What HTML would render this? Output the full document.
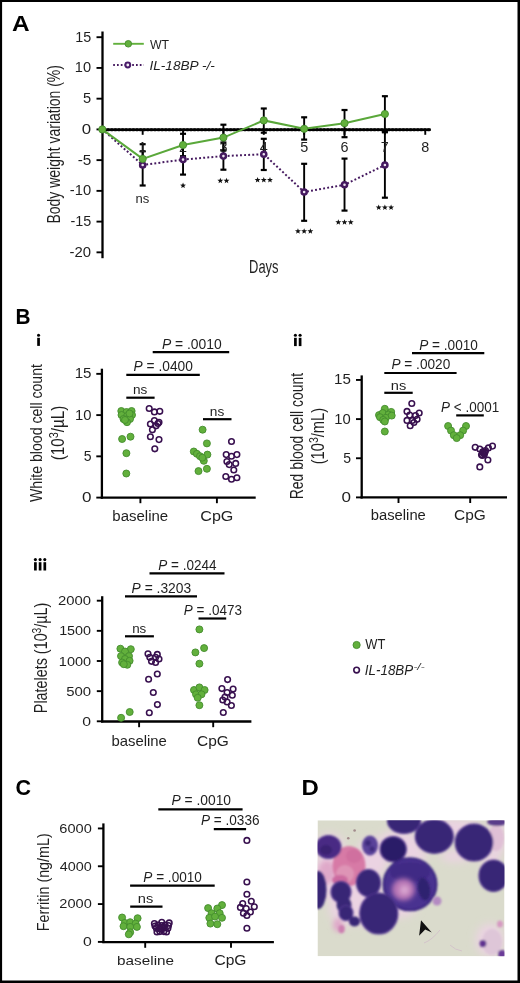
<!DOCTYPE html>
<html><head><meta charset="utf-8"><style>
html,body{margin:0;padding:0;background:#fff;}
svg{display:block;font-family:"Liberation Sans", sans-serif;will-change:transform;}
</style></head><body>
<svg width="520" height="983" viewBox="0 0 520 983">
<rect width="520" height="983" fill="#fff"/>
<text x="11.97" y="30.80" font-size="22.32" fill="#000" textLength="17.62" lengthAdjust="spacingAndGlyphs"><tspan font-weight="bold" font-style="normal">A</tspan></text>
<line x1="102.50" y1="31.50" x2="102.50" y2="258.20" stroke="#000" stroke-width="2.3"/>
<line x1="96.50" y1="37.20" x2="102.50" y2="37.20" stroke="#000" stroke-width="1.9"/>
<text x="75.25" y="41.70" font-size="14.60" fill="#1f1f1f" textLength="15.95" lengthAdjust="spacingAndGlyphs"><tspan font-weight="normal" font-style="normal">15</tspan></text>
<line x1="96.50" y1="67.93" x2="102.50" y2="67.93" stroke="#000" stroke-width="1.9"/>
<text x="74.83" y="72.43" font-size="14.60" fill="#1f1f1f" textLength="16.24" lengthAdjust="spacingAndGlyphs"><tspan font-weight="normal" font-style="normal">10</tspan></text>
<line x1="96.50" y1="98.67" x2="102.50" y2="98.67" stroke="#000" stroke-width="1.9"/>
<text x="83.11" y="103.17" font-size="14.60" fill="#1f1f1f" textLength="8.16" lengthAdjust="spacingAndGlyphs"><tspan font-weight="normal" font-style="normal">5</tspan></text>
<line x1="96.50" y1="129.40" x2="102.50" y2="129.40" stroke="#000" stroke-width="1.9"/>
<text x="81.83" y="133.90" font-size="14.60" fill="#1f1f1f" textLength="9.38" lengthAdjust="spacingAndGlyphs"><tspan font-weight="normal" font-style="normal">0</tspan></text>
<line x1="96.50" y1="160.13" x2="102.50" y2="160.13" stroke="#000" stroke-width="1.9"/>
<text x="77.69" y="164.63" font-size="14.60" fill="#1f1f1f" textLength="13.67" lengthAdjust="spacingAndGlyphs"><tspan font-weight="normal" font-style="normal">-5</tspan></text>
<line x1="96.50" y1="190.87" x2="102.50" y2="190.87" stroke="#000" stroke-width="1.9"/>
<text x="69.81" y="195.37" font-size="14.60" fill="#1f1f1f" textLength="21.31" lengthAdjust="spacingAndGlyphs"><tspan font-weight="normal" font-style="normal">-10</tspan></text>
<line x1="96.50" y1="221.61" x2="102.50" y2="221.61" stroke="#000" stroke-width="1.9"/>
<text x="70.42" y="226.11" font-size="14.60" fill="#1f1f1f" textLength="20.83" lengthAdjust="spacingAndGlyphs"><tspan font-weight="normal" font-style="normal">-15</tspan></text>
<line x1="96.50" y1="252.34" x2="102.50" y2="252.34" stroke="#000" stroke-width="1.9"/>
<text x="69.60" y="256.84" font-size="14.60" fill="#1f1f1f" textLength="21.52" lengthAdjust="spacingAndGlyphs"><tspan font-weight="normal" font-style="normal">-20</tspan></text>
<line x1="101.50" y1="129.70" x2="430.80" y2="129.70" stroke="#000" stroke-width="2.3"/>
<line x1="104" y1="129.7" x2="430" y2="129.7" stroke="#000" stroke-width="3.0" stroke-dasharray="1.2 2.4" stroke-linecap="round"/>
<line x1="142.67" y1="129.70" x2="142.67" y2="134.80" stroke="#000" stroke-width="1.9"/>
<line x1="183.04" y1="129.70" x2="183.04" y2="134.80" stroke="#000" stroke-width="1.9"/>
<line x1="223.41" y1="129.70" x2="223.41" y2="134.80" stroke="#000" stroke-width="1.9"/>
<line x1="263.78" y1="129.70" x2="263.78" y2="134.80" stroke="#000" stroke-width="1.9"/>
<line x1="304.15" y1="129.70" x2="304.15" y2="134.80" stroke="#000" stroke-width="1.9"/>
<line x1="344.52" y1="129.70" x2="344.52" y2="134.80" stroke="#000" stroke-width="1.9"/>
<line x1="384.89" y1="129.70" x2="384.89" y2="134.80" stroke="#000" stroke-width="1.9"/>
<line x1="425.26" y1="129.70" x2="425.26" y2="134.80" stroke="#000" stroke-width="1.9"/>
<text x="249.07" y="273.10" font-size="17.54" fill="#1f1f1f" textLength="29.43" lengthAdjust="spacingAndGlyphs"><tspan font-weight="normal" font-style="normal">Days</tspan></text>
<text transform="translate(59.90,223.52) rotate(-90)" x="0" y="0" font-size="17.50" fill="#1f1f1f" textLength="158.47" lengthAdjust="spacingAndGlyphs"><tspan font-weight="normal" font-style="normal">Body weight variation (%)</tspan></text>
<line x1="142.67" y1="151.30" x2="142.67" y2="166.50" stroke="#000" stroke-width="1.9"/>
<line x1="139.67" y1="151.30" x2="145.67" y2="151.30" stroke="#000" stroke-width="2.2"/>
<line x1="139.67" y1="166.50" x2="145.67" y2="166.50" stroke="#000" stroke-width="2.2"/>
<line x1="142.67" y1="144.20" x2="142.67" y2="185.50" stroke="#000" stroke-width="1.9"/>
<line x1="139.67" y1="144.20" x2="145.67" y2="144.20" stroke="#000" stroke-width="2.2"/>
<line x1="139.67" y1="185.50" x2="145.67" y2="185.50" stroke="#000" stroke-width="2.2"/>
<line x1="183.04" y1="133.80" x2="183.04" y2="156.20" stroke="#000" stroke-width="1.9"/>
<line x1="180.04" y1="133.80" x2="186.04" y2="133.80" stroke="#000" stroke-width="2.2"/>
<line x1="180.04" y1="156.20" x2="186.04" y2="156.20" stroke="#000" stroke-width="2.2"/>
<line x1="183.04" y1="144.60" x2="183.04" y2="174.60" stroke="#000" stroke-width="1.9"/>
<line x1="180.04" y1="144.60" x2="186.04" y2="144.60" stroke="#000" stroke-width="2.2"/>
<line x1="180.04" y1="174.60" x2="186.04" y2="174.60" stroke="#000" stroke-width="2.2"/>
<line x1="223.41" y1="124.70" x2="223.41" y2="150.50" stroke="#000" stroke-width="1.9"/>
<line x1="220.41" y1="124.70" x2="226.41" y2="124.70" stroke="#000" stroke-width="2.2"/>
<line x1="220.41" y1="150.50" x2="226.41" y2="150.50" stroke="#000" stroke-width="2.2"/>
<line x1="223.41" y1="142.50" x2="223.41" y2="169.70" stroke="#000" stroke-width="1.9"/>
<line x1="220.41" y1="142.50" x2="226.41" y2="142.50" stroke="#000" stroke-width="2.2"/>
<line x1="220.41" y1="169.70" x2="226.41" y2="169.70" stroke="#000" stroke-width="2.2"/>
<line x1="263.78" y1="108.50" x2="263.78" y2="132.70" stroke="#000" stroke-width="1.9"/>
<line x1="260.78" y1="108.50" x2="266.78" y2="108.50" stroke="#000" stroke-width="2.2"/>
<line x1="260.78" y1="132.70" x2="266.78" y2="132.70" stroke="#000" stroke-width="2.2"/>
<line x1="263.78" y1="138.80" x2="263.78" y2="170.00" stroke="#000" stroke-width="1.9"/>
<line x1="260.78" y1="138.80" x2="266.78" y2="138.80" stroke="#000" stroke-width="2.2"/>
<line x1="260.78" y1="170.00" x2="266.78" y2="170.00" stroke="#000" stroke-width="2.2"/>
<line x1="304.15" y1="117.30" x2="304.15" y2="139.60" stroke="#000" stroke-width="1.9"/>
<line x1="301.15" y1="117.30" x2="307.15" y2="117.30" stroke="#000" stroke-width="2.2"/>
<line x1="301.15" y1="139.60" x2="307.15" y2="139.60" stroke="#000" stroke-width="2.2"/>
<line x1="304.15" y1="163.80" x2="304.15" y2="220.80" stroke="#000" stroke-width="1.9"/>
<line x1="301.15" y1="163.80" x2="307.15" y2="163.80" stroke="#000" stroke-width="2.2"/>
<line x1="301.15" y1="220.80" x2="307.15" y2="220.80" stroke="#000" stroke-width="2.2"/>
<line x1="344.52" y1="110.00" x2="344.52" y2="137.20" stroke="#000" stroke-width="1.9"/>
<line x1="341.52" y1="110.00" x2="347.52" y2="110.00" stroke="#000" stroke-width="2.2"/>
<line x1="341.52" y1="137.20" x2="347.52" y2="137.20" stroke="#000" stroke-width="2.2"/>
<line x1="344.52" y1="158.60" x2="344.52" y2="210.60" stroke="#000" stroke-width="1.9"/>
<line x1="341.52" y1="158.60" x2="347.52" y2="158.60" stroke="#000" stroke-width="2.2"/>
<line x1="341.52" y1="210.60" x2="347.52" y2="210.60" stroke="#000" stroke-width="2.2"/>
<line x1="384.89" y1="96.20" x2="384.89" y2="131.80" stroke="#000" stroke-width="1.9"/>
<line x1="381.89" y1="96.20" x2="387.89" y2="96.20" stroke="#000" stroke-width="2.2"/>
<line x1="381.89" y1="131.80" x2="387.89" y2="131.80" stroke="#000" stroke-width="2.2"/>
<line x1="384.89" y1="132.30" x2="384.89" y2="197.70" stroke="#000" stroke-width="1.9"/>
<line x1="381.89" y1="132.30" x2="387.89" y2="132.30" stroke="#000" stroke-width="2.2"/>
<line x1="381.89" y1="197.70" x2="387.89" y2="197.70" stroke="#000" stroke-width="2.2"/>
<text x="138.42" y="152.40" font-size="14.40" fill="#1f1f1f" textLength="8.01" lengthAdjust="spacingAndGlyphs"><tspan font-weight="normal" font-style="normal">1</tspan></text>
<text x="179.01" y="152.40" font-size="14.40" fill="#1f1f1f" textLength="8.01" lengthAdjust="spacingAndGlyphs"><tspan font-weight="normal" font-style="normal">2</tspan></text>
<text x="219.45" y="152.40" font-size="14.40" fill="#1f1f1f" textLength="8.01" lengthAdjust="spacingAndGlyphs"><tspan font-weight="normal" font-style="normal">3</tspan></text>
<text x="259.82" y="152.40" font-size="14.40" fill="#1f1f1f" textLength="8.01" lengthAdjust="spacingAndGlyphs"><tspan font-weight="normal" font-style="normal">4</tspan></text>
<text x="300.19" y="152.40" font-size="14.40" fill="#1f1f1f" textLength="8.01" lengthAdjust="spacingAndGlyphs"><tspan font-weight="normal" font-style="normal">5</tspan></text>
<text x="340.49" y="152.40" font-size="14.40" fill="#1f1f1f" textLength="8.01" lengthAdjust="spacingAndGlyphs"><tspan font-weight="normal" font-style="normal">6</tspan></text>
<text x="380.86" y="152.40" font-size="14.40" fill="#1f1f1f" textLength="8.01" lengthAdjust="spacingAndGlyphs"><tspan font-weight="normal" font-style="normal">7</tspan></text>
<text x="421.30" y="152.40" font-size="14.40" fill="#1f1f1f" textLength="8.01" lengthAdjust="spacingAndGlyphs"><tspan font-weight="normal" font-style="normal">8</tspan></text>
<path d="M102.30,129.40 L142.67,165.00 L183.04,159.60 L223.41,156.10 L263.78,154.20 L304.15,192.00 L344.52,184.80 L384.89,165.00" fill="none" stroke="#45195f" stroke-width="2.0" stroke-dasharray="1.9 2.2"/>
<path d="M102.30,129.40 L142.67,158.90 L183.04,145.00 L223.41,137.60 L263.78,120.40 L304.15,128.80 L344.52,123.20 L384.89,114.00" fill="none" stroke="#5aa83a" stroke-width="2.0"/>
<circle cx="142.67" cy="165.00" r="2.55" fill="#ece4f0" stroke="#45195f" stroke-width="2.5"/>
<circle cx="183.04" cy="159.60" r="2.55" fill="#ece4f0" stroke="#45195f" stroke-width="2.5"/>
<circle cx="223.41" cy="156.10" r="2.55" fill="#ece4f0" stroke="#45195f" stroke-width="2.5"/>
<circle cx="263.78" cy="154.20" r="2.55" fill="#ece4f0" stroke="#45195f" stroke-width="2.5"/>
<circle cx="304.15" cy="192.00" r="2.55" fill="#ece4f0" stroke="#45195f" stroke-width="2.5"/>
<circle cx="344.52" cy="184.80" r="2.55" fill="#ece4f0" stroke="#45195f" stroke-width="2.5"/>
<circle cx="384.89" cy="165.00" r="2.55" fill="#ece4f0" stroke="#45195f" stroke-width="2.5"/>
<circle cx="102.30" cy="129.40" r="3.6" fill="#62b03c" stroke="#448c2e" stroke-width="0.9"/>
<circle cx="142.67" cy="158.90" r="3.6" fill="#62b03c" stroke="#448c2e" stroke-width="0.9"/>
<circle cx="183.04" cy="145.00" r="3.6" fill="#62b03c" stroke="#448c2e" stroke-width="0.9"/>
<circle cx="223.41" cy="137.60" r="3.6" fill="#62b03c" stroke="#448c2e" stroke-width="0.9"/>
<circle cx="263.78" cy="120.40" r="3.6" fill="#62b03c" stroke="#448c2e" stroke-width="0.9"/>
<circle cx="304.15" cy="128.80" r="3.6" fill="#62b03c" stroke="#448c2e" stroke-width="0.9"/>
<circle cx="344.52" cy="123.20" r="3.6" fill="#62b03c" stroke="#448c2e" stroke-width="0.9"/>
<circle cx="384.89" cy="114.00" r="3.6" fill="#62b03c" stroke="#448c2e" stroke-width="0.9"/>
<text x="135.49" y="202.50" font-size="13.30" fill="#1f1f1f" textLength="13.78" lengthAdjust="spacingAndGlyphs"><tspan font-weight="normal" font-style="normal">ns</tspan></text>
<polygon points="183.04,182.50 183.81,184.55 185.99,184.64 184.28,186.00 184.86,188.11 183.04,186.90 181.22,188.11 181.80,186.00 180.09,184.64 182.27,184.55" fill="#111"/>
<polygon points="220.31,177.70 221.08,179.75 223.26,179.84 221.55,181.20 222.13,183.31 220.31,182.10 218.49,183.31 219.07,181.20 217.36,179.84 219.54,179.75" fill="#111"/>
<polygon points="226.51,177.70 227.28,179.75 229.46,179.84 227.75,181.20 228.33,183.31 226.51,182.10 224.69,183.31 225.27,181.20 223.56,179.84 225.74,179.75" fill="#111"/>
<polygon points="257.58,176.90 258.35,178.95 260.53,179.04 258.82,180.40 259.40,182.51 257.58,181.30 255.76,182.51 256.34,180.40 254.63,179.04 256.81,178.95" fill="#111"/>
<polygon points="263.78,176.90 264.55,178.95 266.73,179.04 265.02,180.40 265.60,182.51 263.78,181.30 261.96,182.51 262.54,180.40 260.83,179.04 263.01,178.95" fill="#111"/>
<polygon points="269.98,176.90 270.75,178.95 272.93,179.04 271.22,180.40 271.80,182.51 269.98,181.30 268.16,182.51 268.74,180.40 267.03,179.04 269.21,178.95" fill="#111"/>
<polygon points="297.95,228.20 298.72,230.25 300.90,230.34 299.19,231.70 299.77,233.81 297.95,232.60 296.13,233.81 296.71,231.70 295.00,230.34 297.18,230.25" fill="#111"/>
<polygon points="304.15,228.20 304.92,230.25 307.10,230.34 305.39,231.70 305.97,233.81 304.15,232.60 302.33,233.81 302.91,231.70 301.20,230.34 303.38,230.25" fill="#111"/>
<polygon points="310.35,228.20 311.12,230.25 313.30,230.34 311.59,231.70 312.17,233.81 310.35,232.60 308.53,233.81 309.11,231.70 307.40,230.34 309.58,230.25" fill="#111"/>
<polygon points="338.32,219.20 339.09,221.25 341.27,221.34 339.56,222.70 340.14,224.81 338.32,223.60 336.50,224.81 337.08,222.70 335.37,221.34 337.55,221.25" fill="#111"/>
<polygon points="344.52,219.20 345.29,221.25 347.47,221.34 345.76,222.70 346.34,224.81 344.52,223.60 342.70,224.81 343.28,222.70 341.57,221.34 343.75,221.25" fill="#111"/>
<polygon points="350.72,219.20 351.49,221.25 353.67,221.34 351.96,222.70 352.54,224.81 350.72,223.60 348.90,224.81 349.48,222.70 347.77,221.34 349.95,221.25" fill="#111"/>
<polygon points="378.69,204.40 379.46,206.45 381.64,206.54 379.93,207.90 380.51,210.01 378.69,208.80 376.87,210.01 377.45,207.90 375.74,206.54 377.92,206.45" fill="#111"/>
<polygon points="384.89,204.40 385.66,206.45 387.84,206.54 386.13,207.90 386.71,210.01 384.89,208.80 383.07,210.01 383.65,207.90 381.94,206.54 384.12,206.45" fill="#111"/>
<polygon points="391.09,204.40 391.86,206.45 394.04,206.54 392.33,207.90 392.91,210.01 391.09,208.80 389.27,210.01 389.85,207.90 388.14,206.54 390.32,206.45" fill="#111"/>
<line x1="113.20" y1="43.80" x2="143.80" y2="43.80" stroke="#62b03c" stroke-width="1.9"/>
<circle cx="128.30" cy="43.80" r="3.3" fill="#62b03c" stroke="#448c2e" stroke-width="0.9"/>
<text x="149.88" y="48.75" font-size="13.41" fill="#1f1f1f" textLength="19.18" lengthAdjust="spacingAndGlyphs"><tspan font-weight="normal" font-style="normal">WT</tspan></text>
<line x1="113.2" y1="65" x2="143.8" y2="65" stroke="#45195f" stroke-width="1.8" stroke-dasharray="1.7 2.1"/>
<circle cx="127.80" cy="65.00" r="2.4" fill="#f4eef6" stroke="#4a1d6a" stroke-width="2.0"/>
<text x="149.45" y="69.50" font-size="13.19" fill="#1f1f1f" textLength="65.42" lengthAdjust="spacingAndGlyphs"><tspan font-weight="normal" font-style="italic">IL-18BP -/-</tspan></text>
<text x="15.44" y="323.50" font-size="21.74" fill="#000" textLength="15.04" lengthAdjust="spacingAndGlyphs"><tspan font-weight="bold" font-style="normal">B</tspan></text>
<rect x="37.20" y="337.80" width="2.7" height="8.10" fill="#000"/>
<circle cx="38.55" cy="335.20" r="1.55" fill="#000"/>
<rect x="294.05" y="337.80" width="2.7" height="8.30" fill="#000"/>
<circle cx="295.40" cy="335.20" r="1.55" fill="#000"/>
<rect x="298.75" y="337.80" width="2.7" height="8.30" fill="#000"/>
<circle cx="300.10" cy="335.20" r="1.55" fill="#000"/>
<rect x="34.05" y="562.20" width="2.7" height="8.30" fill="#000"/>
<circle cx="35.40" cy="559.60" r="1.55" fill="#000"/>
<rect x="38.75" y="562.20" width="2.7" height="8.30" fill="#000"/>
<circle cx="40.10" cy="559.60" r="1.55" fill="#000"/>
<rect x="43.45" y="562.20" width="2.7" height="8.30" fill="#000"/>
<circle cx="44.80" cy="559.60" r="1.55" fill="#000"/>
<line x1="101.90" y1="368.70" x2="101.90" y2="498.70" stroke="#000" stroke-width="2.3"/>
<line x1="100.80" y1="497.60" x2="255.70" y2="497.60" stroke="#000" stroke-width="2.3"/>
<line x1="96.30" y1="373.85" x2="101.90" y2="373.85" stroke="#000" stroke-width="1.9"/>
<text x="74.69" y="378.35" font-size="14.70" fill="#1f1f1f" textLength="16.85" lengthAdjust="spacingAndGlyphs"><tspan font-weight="normal" font-style="normal">15</tspan></text>
<line x1="96.30" y1="415.10" x2="101.90" y2="415.10" stroke="#000" stroke-width="1.9"/>
<text x="74.92" y="419.60" font-size="14.70" fill="#1f1f1f" textLength="16.46" lengthAdjust="spacingAndGlyphs"><tspan font-weight="normal" font-style="normal">10</tspan></text>
<line x1="96.30" y1="456.35" x2="101.90" y2="456.35" stroke="#000" stroke-width="1.9"/>
<text x="83.74" y="460.85" font-size="14.70" fill="#1f1f1f" textLength="7.81" lengthAdjust="spacingAndGlyphs"><tspan font-weight="normal" font-style="normal">5</tspan></text>
<line x1="96.30" y1="497.60" x2="101.90" y2="497.60" stroke="#000" stroke-width="1.9"/>
<text x="82.02" y="502.10" font-size="14.70" fill="#1f1f1f" textLength="9.50" lengthAdjust="spacingAndGlyphs"><tspan font-weight="normal" font-style="normal">0</tspan></text>
<line x1="140.40" y1="497.60" x2="140.40" y2="503.20" stroke="#000" stroke-width="1.9"/>
<line x1="216.90" y1="497.60" x2="216.90" y2="503.20" stroke="#000" stroke-width="1.9"/>
<text x="112.30" y="520.80" font-size="14.86" fill="#1f1f1f" textLength="55.87" lengthAdjust="spacingAndGlyphs"><tspan font-weight="normal" font-style="normal">baseline</tspan></text>
<text x="200.29" y="520.70" font-size="14.90" fill="#1f1f1f" textLength="33.13" lengthAdjust="spacingAndGlyphs"><tspan font-weight="normal" font-style="normal">CpG</tspan></text>
<text transform="translate(42.30,501.94) rotate(-90)" x="0" y="0" font-size="17.36" fill="#1f1f1f" textLength="137.92" lengthAdjust="spacingAndGlyphs"><tspan font-weight="normal" font-style="normal">White blood cell count</tspan></text>
<text transform="translate(63.70,460.31) rotate(-90)" x="0" y="0" font-size="17.70" fill="#1f1f1f" textLength="54.61" lengthAdjust="spacingAndGlyphs"><tspan font-weight="normal" font-style="normal">(10</tspan><tspan font-weight="normal" font-style="normal" font-size="12.74" dy="-6.07">3</tspan><tspan font-weight="normal" font-style="normal" dy="6.07">/µL)</tspan></text>
<text x="161.88" y="348.80" font-size="14.50" fill="#1f1f1f" textLength="59.86" lengthAdjust="spacingAndGlyphs"><tspan font-weight="normal" font-style="italic">P</tspan><tspan font-weight="normal" font-style="normal"> = .0010</tspan></text>
<line x1="152.70" y1="352.10" x2="229.20" y2="352.10" stroke="#000" stroke-width="2.2"/>
<text x="133.59" y="370.80" font-size="14.50" fill="#1f1f1f" textLength="59.25" lengthAdjust="spacingAndGlyphs"><tspan font-weight="normal" font-style="italic">P</tspan><tspan font-weight="normal" font-style="normal"> = .0400</tspan></text>
<line x1="126.30" y1="374.80" x2="199.80" y2="374.80" stroke="#000" stroke-width="2.2"/>
<text x="133.05" y="394.40" font-size="13.30" fill="#1f1f1f" textLength="14.34" lengthAdjust="spacingAndGlyphs"><tspan font-weight="normal" font-style="normal">ns</tspan></text>
<line x1="126.30" y1="397.70" x2="154.60" y2="397.70" stroke="#000" stroke-width="2.2"/>
<text x="209.84" y="415.60" font-size="13.30" fill="#1f1f1f" textLength="14.45" lengthAdjust="spacingAndGlyphs"><tspan font-weight="normal" font-style="normal">ns</tspan></text>
<line x1="203.00" y1="419.20" x2="231.50" y2="419.20" stroke="#000" stroke-width="2.2"/>
<circle cx="121.30" cy="411.00" r="3.5" fill="#62b03c" stroke="#448c2e" stroke-width="0.9"/>
<circle cx="126.50" cy="412.00" r="3.5" fill="#62b03c" stroke="#448c2e" stroke-width="0.9"/>
<circle cx="131.60" cy="411.00" r="3.5" fill="#62b03c" stroke="#448c2e" stroke-width="0.9"/>
<circle cx="121.50" cy="415.00" r="3.5" fill="#62b03c" stroke="#448c2e" stroke-width="0.9"/>
<circle cx="127.00" cy="416.00" r="3.5" fill="#62b03c" stroke="#448c2e" stroke-width="0.9"/>
<circle cx="132.00" cy="415.00" r="3.5" fill="#62b03c" stroke="#448c2e" stroke-width="0.9"/>
<circle cx="123.50" cy="419.00" r="3.5" fill="#62b03c" stroke="#448c2e" stroke-width="0.9"/>
<circle cx="130.00" cy="419.00" r="3.5" fill="#62b03c" stroke="#448c2e" stroke-width="0.9"/>
<circle cx="127.00" cy="422.20" r="3.5" fill="#62b03c" stroke="#448c2e" stroke-width="0.9"/>
<circle cx="125.00" cy="420.00" r="3.5" fill="#62b03c" stroke="#448c2e" stroke-width="0.9"/>
<circle cx="129.50" cy="413.50" r="3.5" fill="#62b03c" stroke="#448c2e" stroke-width="0.9"/>
<circle cx="122.10" cy="439.00" r="3.5" fill="#62b03c" stroke="#448c2e" stroke-width="0.9"/>
<circle cx="130.50" cy="436.70" r="3.5" fill="#62b03c" stroke="#448c2e" stroke-width="0.9"/>
<circle cx="126.40" cy="453.20" r="3.5" fill="#62b03c" stroke="#448c2e" stroke-width="0.9"/>
<circle cx="126.30" cy="473.50" r="3.5" fill="#62b03c" stroke="#448c2e" stroke-width="0.9"/>
<circle cx="149.20" cy="408.50" r="2.8" fill="none" stroke="#38104f" stroke-width="1.55"/>
<circle cx="154.40" cy="411.90" r="2.8" fill="none" stroke="#38104f" stroke-width="1.55"/>
<circle cx="159.80" cy="411.30" r="2.8" fill="none" stroke="#38104f" stroke-width="1.55"/>
<circle cx="154.40" cy="420.60" r="2.8" fill="none" stroke="#38104f" stroke-width="1.55"/>
<circle cx="150.40" cy="424.00" r="2.8" fill="none" stroke="#38104f" stroke-width="1.55"/>
<circle cx="157.90" cy="423.50" r="2.8" fill="none" stroke="#38104f" stroke-width="1.55"/>
<circle cx="159.00" cy="422.30" r="2.8" fill="none" stroke="#38104f" stroke-width="1.55"/>
<circle cx="156.10" cy="425.80" r="2.8" fill="none" stroke="#38104f" stroke-width="1.55"/>
<circle cx="152.40" cy="429.80" r="2.8" fill="none" stroke="#38104f" stroke-width="1.55"/>
<circle cx="150.40" cy="436.70" r="2.8" fill="none" stroke="#38104f" stroke-width="1.55"/>
<circle cx="159.00" cy="439.60" r="2.8" fill="none" stroke="#38104f" stroke-width="1.55"/>
<circle cx="154.80" cy="448.80" r="2.8" fill="none" stroke="#38104f" stroke-width="1.55"/>
<circle cx="202.60" cy="429.70" r="3.5" fill="#62b03c" stroke="#448c2e" stroke-width="0.9"/>
<circle cx="206.90" cy="443.40" r="3.5" fill="#62b03c" stroke="#448c2e" stroke-width="0.9"/>
<circle cx="193.80" cy="451.50" r="3.5" fill="#62b03c" stroke="#448c2e" stroke-width="0.9"/>
<circle cx="196.90" cy="453.80" r="3.5" fill="#62b03c" stroke="#448c2e" stroke-width="0.9"/>
<circle cx="200.00" cy="456.20" r="3.5" fill="#62b03c" stroke="#448c2e" stroke-width="0.9"/>
<circle cx="207.40" cy="454.60" r="3.5" fill="#62b03c" stroke="#448c2e" stroke-width="0.9"/>
<circle cx="203.80" cy="460.80" r="3.5" fill="#62b03c" stroke="#448c2e" stroke-width="0.9"/>
<circle cx="206.90" cy="468.80" r="3.5" fill="#62b03c" stroke="#448c2e" stroke-width="0.9"/>
<circle cx="198.50" cy="471.10" r="3.5" fill="#62b03c" stroke="#448c2e" stroke-width="0.9"/>
<circle cx="202.30" cy="457.70" r="3.5" fill="#62b03c" stroke="#448c2e" stroke-width="0.9"/>
<circle cx="231.50" cy="441.50" r="2.8" fill="none" stroke="#38104f" stroke-width="1.55"/>
<circle cx="226.20" cy="454.60" r="2.8" fill="none" stroke="#38104f" stroke-width="1.55"/>
<circle cx="231.50" cy="456.20" r="2.8" fill="none" stroke="#38104f" stroke-width="1.55"/>
<circle cx="236.90" cy="454.60" r="2.8" fill="none" stroke="#38104f" stroke-width="1.55"/>
<circle cx="226.90" cy="461.50" r="2.8" fill="none" stroke="#38104f" stroke-width="1.55"/>
<circle cx="229.20" cy="464.60" r="2.8" fill="none" stroke="#38104f" stroke-width="1.55"/>
<circle cx="235.70" cy="463.40" r="2.8" fill="none" stroke="#38104f" stroke-width="1.55"/>
<circle cx="233.80" cy="470.00" r="2.8" fill="none" stroke="#38104f" stroke-width="1.55"/>
<circle cx="225.80" cy="476.50" r="2.8" fill="none" stroke="#38104f" stroke-width="1.55"/>
<circle cx="231.50" cy="479.20" r="2.8" fill="none" stroke="#38104f" stroke-width="1.55"/>
<circle cx="236.90" cy="477.70" r="2.8" fill="none" stroke="#38104f" stroke-width="1.55"/>
<line x1="361.70" y1="375.40" x2="361.70" y2="498.50" stroke="#000" stroke-width="2.3"/>
<line x1="360.60" y1="497.30" x2="507.00" y2="497.30" stroke="#000" stroke-width="2.3"/>
<line x1="356.00" y1="379.95" x2="361.70" y2="379.95" stroke="#000" stroke-width="1.9"/>
<text x="334.09" y="384.45" font-size="14.70" fill="#1f1f1f" textLength="16.85" lengthAdjust="spacingAndGlyphs"><tspan font-weight="normal" font-style="normal">15</tspan></text>
<line x1="356.00" y1="419.10" x2="361.70" y2="419.10" stroke="#000" stroke-width="1.9"/>
<text x="334.32" y="423.60" font-size="14.70" fill="#1f1f1f" textLength="16.46" lengthAdjust="spacingAndGlyphs"><tspan font-weight="normal" font-style="normal">10</tspan></text>
<line x1="356.00" y1="458.25" x2="361.70" y2="458.25" stroke="#000" stroke-width="1.9"/>
<text x="343.14" y="462.75" font-size="14.70" fill="#1f1f1f" textLength="7.81" lengthAdjust="spacingAndGlyphs"><tspan font-weight="normal" font-style="normal">5</tspan></text>
<line x1="356.00" y1="497.40" x2="361.70" y2="497.40" stroke="#000" stroke-width="1.9"/>
<text x="341.42" y="501.90" font-size="14.70" fill="#1f1f1f" textLength="9.50" lengthAdjust="spacingAndGlyphs"><tspan font-weight="normal" font-style="normal">0</tspan></text>
<line x1="398.50" y1="497.30" x2="398.50" y2="503.00" stroke="#000" stroke-width="1.9"/>
<line x1="470.20" y1="497.30" x2="470.20" y2="503.00" stroke="#000" stroke-width="1.9"/>
<text x="370.81" y="520.20" font-size="14.90" fill="#1f1f1f" textLength="55.05" lengthAdjust="spacingAndGlyphs"><tspan font-weight="normal" font-style="normal">baseline</tspan></text>
<text x="454.03" y="520.20" font-size="14.90" fill="#1f1f1f" textLength="31.75" lengthAdjust="spacingAndGlyphs"><tspan font-weight="normal" font-style="normal">CpG</tspan></text>
<text transform="translate(303.20,499.22) rotate(-90)" x="0" y="0" font-size="17.50" fill="#1f1f1f" textLength="126.37" lengthAdjust="spacingAndGlyphs"><tspan font-weight="normal" font-style="normal">Red blood cell count</tspan></text>
<text transform="translate(324.20,464.28) rotate(-90)" x="0" y="0" font-size="17.50" fill="#1f1f1f" textLength="56.34" lengthAdjust="spacingAndGlyphs"><tspan font-weight="normal" font-style="normal">(10</tspan><tspan font-weight="normal" font-style="normal" font-size="12.60" dy="-6.00">3</tspan><tspan font-weight="normal" font-style="normal" dy="6.00">/mL)</tspan></text>
<text x="419.19" y="349.60" font-size="14.50" fill="#1f1f1f" textLength="58.74" lengthAdjust="spacingAndGlyphs"><tspan font-weight="normal" font-style="italic">P</tspan><tspan font-weight="normal" font-style="normal"> = .0010</tspan></text>
<line x1="412.00" y1="353.10" x2="484.30" y2="353.10" stroke="#000" stroke-width="2.2"/>
<text x="391.49" y="369.30" font-size="14.50" fill="#1f1f1f" textLength="58.74" lengthAdjust="spacingAndGlyphs"><tspan font-weight="normal" font-style="italic">P</tspan><tspan font-weight="normal" font-style="normal"> = .0020</tspan></text>
<line x1="384.30" y1="373.00" x2="456.60" y2="373.00" stroke="#000" stroke-width="2.2"/>
<text x="390.88" y="389.60" font-size="13.30" fill="#1f1f1f" textLength="15.45" lengthAdjust="spacingAndGlyphs"><tspan font-weight="normal" font-style="normal">ns</tspan></text>
<line x1="384.30" y1="392.80" x2="412.70" y2="392.80" stroke="#000" stroke-width="2.2"/>
<text x="441.10" y="411.50" font-size="14.50" fill="#1f1f1f" textLength="58.06" lengthAdjust="spacingAndGlyphs"><tspan font-weight="normal" font-style="italic">P</tspan><tspan font-weight="normal" font-style="normal"> &lt; .0001</tspan></text>
<line x1="456.20" y1="415.40" x2="483.80" y2="415.40" stroke="#000" stroke-width="2.2"/>
<circle cx="384.80" cy="408.80" r="3.5" fill="#62b03c" stroke="#448c2e" stroke-width="0.9"/>
<circle cx="379.00" cy="415.10" r="3.5" fill="#62b03c" stroke="#448c2e" stroke-width="0.9"/>
<circle cx="391.20" cy="411.90" r="3.5" fill="#62b03c" stroke="#448c2e" stroke-width="0.9"/>
<circle cx="382.70" cy="413.00" r="3.5" fill="#62b03c" stroke="#448c2e" stroke-width="0.9"/>
<circle cx="388.50" cy="414.60" r="3.5" fill="#62b03c" stroke="#448c2e" stroke-width="0.9"/>
<circle cx="380.00" cy="417.20" r="3.5" fill="#62b03c" stroke="#448c2e" stroke-width="0.9"/>
<circle cx="385.90" cy="417.80" r="3.5" fill="#62b03c" stroke="#448c2e" stroke-width="0.9"/>
<circle cx="391.70" cy="415.60" r="3.5" fill="#62b03c" stroke="#448c2e" stroke-width="0.9"/>
<circle cx="383.20" cy="419.90" r="3.5" fill="#62b03c" stroke="#448c2e" stroke-width="0.9"/>
<circle cx="384.80" cy="421.50" r="3.5" fill="#62b03c" stroke="#448c2e" stroke-width="0.9"/>
<circle cx="384.80" cy="431.50" r="3.5" fill="#62b03c" stroke="#448c2e" stroke-width="0.9"/>
<circle cx="411.80" cy="403.50" r="2.8" fill="none" stroke="#38104f" stroke-width="1.55"/>
<circle cx="407.00" cy="411.40" r="2.8" fill="none" stroke="#38104f" stroke-width="1.55"/>
<circle cx="419.20" cy="413.00" r="2.8" fill="none" stroke="#38104f" stroke-width="1.55"/>
<circle cx="409.70" cy="415.10" r="2.8" fill="none" stroke="#38104f" stroke-width="1.55"/>
<circle cx="415.50" cy="415.60" r="2.8" fill="none" stroke="#38104f" stroke-width="1.55"/>
<circle cx="407.00" cy="420.40" r="2.8" fill="none" stroke="#38104f" stroke-width="1.55"/>
<circle cx="412.30" cy="420.40" r="2.8" fill="none" stroke="#38104f" stroke-width="1.55"/>
<circle cx="417.10" cy="419.30" r="2.8" fill="none" stroke="#38104f" stroke-width="1.55"/>
<circle cx="410.20" cy="425.70" r="2.8" fill="none" stroke="#38104f" stroke-width="1.55"/>
<circle cx="413.90" cy="422.50" r="2.8" fill="none" stroke="#38104f" stroke-width="1.55"/>
<circle cx="448.10" cy="426.00" r="3.5" fill="#62b03c" stroke="#448c2e" stroke-width="0.9"/>
<circle cx="466.00" cy="426.00" r="3.5" fill="#62b03c" stroke="#448c2e" stroke-width="0.9"/>
<circle cx="451.00" cy="430.60" r="3.5" fill="#62b03c" stroke="#448c2e" stroke-width="0.9"/>
<circle cx="463.10" cy="430.60" r="3.5" fill="#62b03c" stroke="#448c2e" stroke-width="0.9"/>
<circle cx="453.80" cy="435.20" r="3.5" fill="#62b03c" stroke="#448c2e" stroke-width="0.9"/>
<circle cx="460.20" cy="435.20" r="3.5" fill="#62b03c" stroke="#448c2e" stroke-width="0.9"/>
<circle cx="456.70" cy="438.10" r="3.5" fill="#62b03c" stroke="#448c2e" stroke-width="0.9"/>
<circle cx="475.20" cy="447.30" r="2.8" fill="none" stroke="#38104f" stroke-width="1.55"/>
<circle cx="479.80" cy="449.00" r="2.8" fill="none" stroke="#38104f" stroke-width="1.55"/>
<circle cx="492.50" cy="446.10" r="2.8" fill="none" stroke="#38104f" stroke-width="1.55"/>
<circle cx="488.40" cy="447.90" r="2.8" fill="none" stroke="#38104f" stroke-width="1.55"/>
<circle cx="482.70" cy="451.90" r="2.8" fill="none" stroke="#38104f" stroke-width="1.55"/>
<circle cx="484.40" cy="454.20" r="2.8" fill="none" stroke="#38104f" stroke-width="1.55"/>
<circle cx="481.50" cy="454.80" r="2.8" fill="none" stroke="#38104f" stroke-width="1.55"/>
<circle cx="485.00" cy="452.00" r="2.8" fill="none" stroke="#38104f" stroke-width="1.55"/>
<circle cx="487.90" cy="460.00" r="2.8" fill="none" stroke="#38104f" stroke-width="1.55"/>
<circle cx="479.80" cy="466.90" r="2.8" fill="none" stroke="#38104f" stroke-width="1.55"/>
<circle cx="483.50" cy="453.00" r="2.8" fill="none" stroke="#38104f" stroke-width="1.55"/>
<circle cx="485.50" cy="450.50" r="2.8" fill="none" stroke="#38104f" stroke-width="1.55"/>
<circle cx="482.50" cy="455.50" r="2.8" fill="none" stroke="#38104f" stroke-width="1.55"/>
<line x1="102.20" y1="596.20" x2="102.20" y2="722.40" stroke="#000" stroke-width="2.3"/>
<line x1="101.10" y1="721.50" x2="251.40" y2="721.50" stroke="#000" stroke-width="2.3"/>
<line x1="96.80" y1="600.70" x2="102.20" y2="600.70" stroke="#000" stroke-width="1.9"/>
<text x="58.06" y="605.30" font-size="13.70" fill="#1f1f1f" textLength="33.05" lengthAdjust="spacingAndGlyphs"><tspan font-weight="normal" font-style="normal">2000</tspan></text>
<line x1="96.80" y1="630.85" x2="102.20" y2="630.85" stroke="#000" stroke-width="1.9"/>
<text x="59.15" y="635.45" font-size="13.70" fill="#1f1f1f" textLength="31.94" lengthAdjust="spacingAndGlyphs"><tspan font-weight="normal" font-style="normal">1500</tspan></text>
<line x1="96.80" y1="661.00" x2="102.20" y2="661.00" stroke="#000" stroke-width="1.9"/>
<text x="58.84" y="665.60" font-size="13.70" fill="#1f1f1f" textLength="32.26" lengthAdjust="spacingAndGlyphs"><tspan font-weight="normal" font-style="normal">1000</tspan></text>
<line x1="96.80" y1="691.15" x2="102.20" y2="691.15" stroke="#000" stroke-width="1.9"/>
<text x="66.20" y="695.75" font-size="13.70" fill="#1f1f1f" textLength="24.97" lengthAdjust="spacingAndGlyphs"><tspan font-weight="normal" font-style="normal">500</tspan></text>
<line x1="96.80" y1="721.30" x2="102.20" y2="721.30" stroke="#000" stroke-width="1.9"/>
<text x="82.37" y="725.90" font-size="13.70" fill="#1f1f1f" textLength="8.80" lengthAdjust="spacingAndGlyphs"><tspan font-weight="normal" font-style="normal">0</tspan></text>
<line x1="139.10" y1="721.50" x2="139.10" y2="727.20" stroke="#000" stroke-width="1.9"/>
<line x1="213.20" y1="721.50" x2="213.20" y2="727.20" stroke="#000" stroke-width="1.9"/>
<text x="111.41" y="745.80" font-size="15.00" fill="#1f1f1f" textLength="55.46" lengthAdjust="spacingAndGlyphs"><tspan font-weight="normal" font-style="normal">baseline</tspan></text>
<text x="197.03" y="745.80" font-size="14.90" fill="#1f1f1f" textLength="31.85" lengthAdjust="spacingAndGlyphs"><tspan font-weight="normal" font-style="normal">CpG</tspan></text>
<text transform="translate(47.00,713.15) rotate(-90)" x="0" y="0" font-size="18.00" fill="#1f1f1f" textLength="110.54" lengthAdjust="spacingAndGlyphs"><tspan font-weight="normal" font-style="normal">Platelets (10</tspan><tspan font-weight="normal" font-style="normal" font-size="12.96" dy="-6.17">3</tspan><tspan font-weight="normal" font-style="normal" dy="6.17">/µL)</tspan></text>
<text x="158.34" y="570.00" font-size="14.50" fill="#1f1f1f" textLength="58.30" lengthAdjust="spacingAndGlyphs"><tspan font-weight="normal" font-style="italic">P</tspan><tspan font-weight="normal" font-style="normal"> = .0244</tspan></text>
<line x1="149.50" y1="573.30" x2="224.50" y2="573.30" stroke="#000" stroke-width="2.2"/>
<text x="131.59" y="592.50" font-size="14.50" fill="#1f1f1f" textLength="59.59" lengthAdjust="spacingAndGlyphs"><tspan font-weight="normal" font-style="italic">P</tspan><tspan font-weight="normal" font-style="normal"> = .3203</tspan></text>
<line x1="125.00" y1="596.30" x2="197.00" y2="596.30" stroke="#000" stroke-width="2.2"/>
<text x="183.80" y="614.70" font-size="14.50" fill="#1f1f1f" textLength="58.17" lengthAdjust="spacingAndGlyphs"><tspan font-weight="normal" font-style="italic">P</tspan><tspan font-weight="normal" font-style="normal"> = .0473</tspan></text>
<line x1="198.50" y1="618.50" x2="226.20" y2="618.50" stroke="#000" stroke-width="2.2"/>
<text x="132.16" y="633.00" font-size="13.30" fill="#1f1f1f" textLength="14.12" lengthAdjust="spacingAndGlyphs"><tspan font-weight="normal" font-style="normal">ns</tspan></text>
<line x1="125.00" y1="636.30" x2="153.90" y2="636.30" stroke="#000" stroke-width="2.2"/>
<circle cx="120.40" cy="648.70" r="3.5" fill="#62b03c" stroke="#448c2e" stroke-width="0.9"/>
<circle cx="130.80" cy="649.20" r="3.5" fill="#62b03c" stroke="#448c2e" stroke-width="0.9"/>
<circle cx="125.00" cy="651.50" r="3.5" fill="#62b03c" stroke="#448c2e" stroke-width="0.9"/>
<circle cx="121.00" cy="656.10" r="3.5" fill="#62b03c" stroke="#448c2e" stroke-width="0.9"/>
<circle cx="129.00" cy="656.10" r="3.5" fill="#62b03c" stroke="#448c2e" stroke-width="0.9"/>
<circle cx="125.00" cy="659.00" r="3.5" fill="#62b03c" stroke="#448c2e" stroke-width="0.9"/>
<circle cx="122.10" cy="662.50" r="3.5" fill="#62b03c" stroke="#448c2e" stroke-width="0.9"/>
<circle cx="129.60" cy="660.80" r="3.5" fill="#62b03c" stroke="#448c2e" stroke-width="0.9"/>
<circle cx="127.30" cy="664.80" r="3.5" fill="#62b03c" stroke="#448c2e" stroke-width="0.9"/>
<circle cx="123.80" cy="664.20" r="3.5" fill="#62b03c" stroke="#448c2e" stroke-width="0.9"/>
<circle cx="121.10" cy="717.80" r="3.5" fill="#62b03c" stroke="#448c2e" stroke-width="0.9"/>
<circle cx="129.70" cy="712.00" r="3.5" fill="#62b03c" stroke="#448c2e" stroke-width="0.9"/>
<circle cx="148.00" cy="653.80" r="2.8" fill="none" stroke="#38104f" stroke-width="1.55"/>
<circle cx="157.30" cy="654.40" r="2.8" fill="none" stroke="#38104f" stroke-width="1.55"/>
<circle cx="149.80" cy="657.30" r="2.8" fill="none" stroke="#38104f" stroke-width="1.55"/>
<circle cx="155.60" cy="657.30" r="2.8" fill="none" stroke="#38104f" stroke-width="1.55"/>
<circle cx="159.00" cy="659.00" r="2.8" fill="none" stroke="#38104f" stroke-width="1.55"/>
<circle cx="151.50" cy="661.30" r="2.8" fill="none" stroke="#38104f" stroke-width="1.55"/>
<circle cx="155.60" cy="662.50" r="2.8" fill="none" stroke="#38104f" stroke-width="1.55"/>
<circle cx="157.30" cy="674.00" r="2.8" fill="none" stroke="#38104f" stroke-width="1.55"/>
<circle cx="148.60" cy="679.20" r="2.8" fill="none" stroke="#38104f" stroke-width="1.55"/>
<circle cx="153.30" cy="692.50" r="2.8" fill="none" stroke="#38104f" stroke-width="1.55"/>
<circle cx="157.40" cy="704.60" r="2.8" fill="none" stroke="#38104f" stroke-width="1.55"/>
<circle cx="149.30" cy="712.70" r="2.8" fill="none" stroke="#38104f" stroke-width="1.55"/>
<circle cx="199.40" cy="629.40" r="3.5" fill="#62b03c" stroke="#448c2e" stroke-width="0.9"/>
<circle cx="204.10" cy="648.10" r="3.5" fill="#62b03c" stroke="#448c2e" stroke-width="0.9"/>
<circle cx="195.40" cy="652.40" r="3.5" fill="#62b03c" stroke="#448c2e" stroke-width="0.9"/>
<circle cx="199.40" cy="663.70" r="3.5" fill="#62b03c" stroke="#448c2e" stroke-width="0.9"/>
<circle cx="194.00" cy="690.00" r="3.5" fill="#62b03c" stroke="#448c2e" stroke-width="0.9"/>
<circle cx="199.40" cy="687.40" r="3.5" fill="#62b03c" stroke="#448c2e" stroke-width="0.9"/>
<circle cx="204.60" cy="690.00" r="3.5" fill="#62b03c" stroke="#448c2e" stroke-width="0.9"/>
<circle cx="196.00" cy="694.30" r="3.5" fill="#62b03c" stroke="#448c2e" stroke-width="0.9"/>
<circle cx="201.50" cy="694.30" r="3.5" fill="#62b03c" stroke="#448c2e" stroke-width="0.9"/>
<circle cx="197.70" cy="697.80" r="3.5" fill="#62b03c" stroke="#448c2e" stroke-width="0.9"/>
<circle cx="199.40" cy="705.20" r="3.5" fill="#62b03c" stroke="#448c2e" stroke-width="0.9"/>
<circle cx="227.60" cy="679.60" r="2.8" fill="none" stroke="#38104f" stroke-width="1.55"/>
<circle cx="221.90" cy="688.60" r="2.8" fill="none" stroke="#38104f" stroke-width="1.55"/>
<circle cx="233.10" cy="689.10" r="2.8" fill="none" stroke="#38104f" stroke-width="1.55"/>
<circle cx="227.10" cy="692.60" r="2.8" fill="none" stroke="#38104f" stroke-width="1.55"/>
<circle cx="232.30" cy="695.20" r="2.8" fill="none" stroke="#38104f" stroke-width="1.55"/>
<circle cx="222.80" cy="700.00" r="2.8" fill="none" stroke="#38104f" stroke-width="1.55"/>
<circle cx="227.10" cy="702.00" r="2.8" fill="none" stroke="#38104f" stroke-width="1.55"/>
<circle cx="231.40" cy="705.50" r="2.8" fill="none" stroke="#38104f" stroke-width="1.55"/>
<circle cx="223.30" cy="712.50" r="2.8" fill="none" stroke="#38104f" stroke-width="1.55"/>
<circle cx="225.00" cy="697.00" r="2.8" fill="none" stroke="#38104f" stroke-width="1.55"/>
<circle cx="356.60" cy="645.00" r="3.6" fill="#62b03c" stroke="#448c2e" stroke-width="0.9"/>
<text x="365.27" y="649.30" font-size="14.06" fill="#1f1f1f" textLength="20.05" lengthAdjust="spacingAndGlyphs"><tspan font-weight="normal" font-style="normal">WT</tspan></text>
<circle cx="356.60" cy="670.10" r="2.8" fill="none" stroke="#38104f" stroke-width="1.6"/>
<text x="364.86" y="675.40" font-size="14.86" fill="#1f1f1f" textLength="48.38" lengthAdjust="spacingAndGlyphs"><tspan font-weight="normal" font-style="italic">IL-18BP</tspan></text>
<text x="413.41" y="670.20" font-size="9.50" fill="#1f1f1f" textLength="11.17" lengthAdjust="spacingAndGlyphs"><tspan font-weight="normal" font-style="italic">-/-</tspan></text>
<text x="15.54" y="795.20" font-size="22.57" fill="#000" textLength="15.55" lengthAdjust="spacingAndGlyphs"><tspan font-weight="bold" font-style="normal">C</tspan></text>
<line x1="103.40" y1="823.40" x2="103.40" y2="943.10" stroke="#000" stroke-width="2.3"/>
<line x1="102.30" y1="942.10" x2="273.90" y2="942.10" stroke="#000" stroke-width="2.3"/>
<line x1="97.90" y1="828.44" x2="103.40" y2="828.44" stroke="#000" stroke-width="1.9"/>
<text x="59.37" y="832.84" font-size="13.30" fill="#1f1f1f" textLength="32.43" lengthAdjust="spacingAndGlyphs"><tspan font-weight="normal" font-style="normal">6000</tspan></text>
<line x1="97.90" y1="866.26" x2="103.40" y2="866.26" stroke="#000" stroke-width="1.9"/>
<text x="59.81" y="870.66" font-size="13.30" fill="#1f1f1f" textLength="31.98" lengthAdjust="spacingAndGlyphs"><tspan font-weight="normal" font-style="normal">4000</tspan></text>
<line x1="97.90" y1="904.08" x2="103.40" y2="904.08" stroke="#000" stroke-width="1.9"/>
<text x="59.37" y="908.48" font-size="13.30" fill="#1f1f1f" textLength="32.43" lengthAdjust="spacingAndGlyphs"><tspan font-weight="normal" font-style="normal">2000</tspan></text>
<line x1="97.90" y1="941.90" x2="103.40" y2="941.90" stroke="#000" stroke-width="1.9"/>
<text x="83.07" y="946.30" font-size="13.30" fill="#1f1f1f" textLength="8.80" lengthAdjust="spacingAndGlyphs"><tspan font-weight="normal" font-style="normal">0</tspan></text>
<line x1="145.20" y1="942.10" x2="145.20" y2="947.80" stroke="#000" stroke-width="1.9"/>
<line x1="231.00" y1="942.10" x2="231.00" y2="947.80" stroke="#000" stroke-width="1.9"/>
<text x="117.08" y="965.40" font-size="13.33" fill="#1f1f1f" textLength="57.00" lengthAdjust="spacingAndGlyphs"><tspan font-weight="normal" font-style="normal">baseline</tspan></text>
<text x="214.42" y="965.40" font-size="14.90" fill="#1f1f1f" textLength="32.07" lengthAdjust="spacingAndGlyphs"><tspan font-weight="normal" font-style="normal">CpG</tspan></text>
<text transform="translate(49.30,931.15) rotate(-90)" x="0" y="0" font-size="17.22" fill="#1f1f1f" textLength="97.86" lengthAdjust="spacingAndGlyphs"><tspan font-weight="normal" font-style="normal">Ferritin (ng/mL)</tspan></text>
<text x="171.38" y="805.20" font-size="14.50" fill="#1f1f1f" textLength="59.65" lengthAdjust="spacingAndGlyphs"><tspan font-weight="normal" font-style="italic">P</tspan><tspan font-weight="normal" font-style="normal"> = .0010</tspan></text>
<line x1="158.30" y1="809.30" x2="242.60" y2="809.30" stroke="#000" stroke-width="2.2"/>
<text x="200.99" y="825.40" font-size="14.50" fill="#1f1f1f" textLength="58.57" lengthAdjust="spacingAndGlyphs"><tspan font-weight="normal" font-style="italic">P</tspan><tspan font-weight="normal" font-style="normal"> = .0336</tspan></text>
<line x1="213.80" y1="829.20" x2="246.10" y2="829.20" stroke="#000" stroke-width="2.2"/>
<text x="143.29" y="881.60" font-size="14.50" fill="#1f1f1f" textLength="58.64" lengthAdjust="spacingAndGlyphs"><tspan font-weight="normal" font-style="italic">P</tspan><tspan font-weight="normal" font-style="normal"> = .0010</tspan></text>
<line x1="130.10" y1="885.70" x2="214.70" y2="885.70" stroke="#000" stroke-width="2.2"/>
<text x="137.88" y="903.10" font-size="13.30" fill="#1f1f1f" textLength="15.45" lengthAdjust="spacingAndGlyphs"><tspan font-weight="normal" font-style="normal">ns</tspan></text>
<line x1="130.20" y1="906.70" x2="162.50" y2="906.70" stroke="#000" stroke-width="2.2"/>
<circle cx="122.10" cy="917.50" r="3.5" fill="#62b03c" stroke="#448c2e" stroke-width="0.9"/>
<circle cx="137.60" cy="918.20" r="3.5" fill="#62b03c" stroke="#448c2e" stroke-width="0.9"/>
<circle cx="124.80" cy="922.90" r="3.5" fill="#62b03c" stroke="#448c2e" stroke-width="0.9"/>
<circle cx="130.20" cy="922.20" r="3.5" fill="#62b03c" stroke="#448c2e" stroke-width="0.9"/>
<circle cx="135.60" cy="923.60" r="3.5" fill="#62b03c" stroke="#448c2e" stroke-width="0.9"/>
<circle cx="123.50" cy="926.20" r="3.5" fill="#62b03c" stroke="#448c2e" stroke-width="0.9"/>
<circle cx="130.20" cy="926.90" r="3.5" fill="#62b03c" stroke="#448c2e" stroke-width="0.9"/>
<circle cx="136.90" cy="926.90" r="3.5" fill="#62b03c" stroke="#448c2e" stroke-width="0.9"/>
<circle cx="130.20" cy="932.30" r="3.5" fill="#62b03c" stroke="#448c2e" stroke-width="0.9"/>
<circle cx="128.80" cy="934.30" r="3.5" fill="#62b03c" stroke="#448c2e" stroke-width="0.9"/>
<circle cx="154.40" cy="923.60" r="2.8" fill="none" stroke="#38104f" stroke-width="1.55"/>
<circle cx="161.80" cy="922.20" r="2.8" fill="none" stroke="#38104f" stroke-width="1.55"/>
<circle cx="169.20" cy="922.90" r="2.8" fill="none" stroke="#38104f" stroke-width="1.55"/>
<circle cx="156.40" cy="928.30" r="2.8" fill="none" stroke="#38104f" stroke-width="1.55"/>
<circle cx="161.80" cy="927.60" r="2.8" fill="none" stroke="#38104f" stroke-width="1.55"/>
<circle cx="167.90" cy="928.30" r="2.8" fill="none" stroke="#38104f" stroke-width="1.55"/>
<circle cx="159.80" cy="931.60" r="2.8" fill="none" stroke="#38104f" stroke-width="1.55"/>
<circle cx="163.80" cy="931.60" r="2.8" fill="none" stroke="#38104f" stroke-width="1.55"/>
<circle cx="158.00" cy="925.00" r="2.8" fill="none" stroke="#38104f" stroke-width="1.55"/>
<circle cx="165.00" cy="925.00" r="2.8" fill="none" stroke="#38104f" stroke-width="1.55"/>
<circle cx="160.00" cy="929.00" r="2.8" fill="none" stroke="#38104f" stroke-width="1.55"/>
<circle cx="164.00" cy="928.00" r="2.8" fill="none" stroke="#38104f" stroke-width="1.55"/>
<circle cx="161.50" cy="925.50" r="2.8" fill="none" stroke="#38104f" stroke-width="1.55"/>
<circle cx="157.00" cy="932.00" r="2.8" fill="none" stroke="#38104f" stroke-width="1.55"/>
<circle cx="166.50" cy="932.00" r="2.8" fill="none" stroke="#38104f" stroke-width="1.55"/>
<circle cx="155.00" cy="926.00" r="2.8" fill="none" stroke="#38104f" stroke-width="1.55"/>
<circle cx="168.50" cy="925.50" r="2.8" fill="none" stroke="#38104f" stroke-width="1.55"/>
<circle cx="208.10" cy="908.10" r="3.5" fill="#62b03c" stroke="#448c2e" stroke-width="0.9"/>
<circle cx="222.00" cy="905.10" r="3.5" fill="#62b03c" stroke="#448c2e" stroke-width="0.9"/>
<circle cx="217.30" cy="908.50" r="3.5" fill="#62b03c" stroke="#448c2e" stroke-width="0.9"/>
<circle cx="211.60" cy="913.20" r="3.5" fill="#62b03c" stroke="#448c2e" stroke-width="0.9"/>
<circle cx="219.70" cy="913.20" r="3.5" fill="#62b03c" stroke="#448c2e" stroke-width="0.9"/>
<circle cx="209.30" cy="917.80" r="3.5" fill="#62b03c" stroke="#448c2e" stroke-width="0.9"/>
<circle cx="222.00" cy="917.80" r="3.5" fill="#62b03c" stroke="#448c2e" stroke-width="0.9"/>
<circle cx="210.40" cy="923.60" r="3.5" fill="#62b03c" stroke="#448c2e" stroke-width="0.9"/>
<circle cx="217.30" cy="924.20" r="3.5" fill="#62b03c" stroke="#448c2e" stroke-width="0.9"/>
<circle cx="215.00" cy="916.60" r="3.5" fill="#62b03c" stroke="#448c2e" stroke-width="0.9"/>
<circle cx="246.90" cy="840.40" r="2.8" fill="none" stroke="#38104f" stroke-width="1.55"/>
<circle cx="246.90" cy="882.00" r="2.8" fill="none" stroke="#38104f" stroke-width="1.55"/>
<circle cx="246.90" cy="894.20" r="2.8" fill="none" stroke="#38104f" stroke-width="1.55"/>
<circle cx="242.70" cy="903.50" r="2.8" fill="none" stroke="#38104f" stroke-width="1.55"/>
<circle cx="251.30" cy="901.20" r="2.8" fill="none" stroke="#38104f" stroke-width="1.55"/>
<circle cx="240.40" cy="907.40" r="2.8" fill="none" stroke="#38104f" stroke-width="1.55"/>
<circle cx="254.30" cy="906.70" r="2.8" fill="none" stroke="#38104f" stroke-width="1.55"/>
<circle cx="246.20" cy="908.50" r="2.8" fill="none" stroke="#38104f" stroke-width="1.55"/>
<circle cx="243.40" cy="913.20" r="2.8" fill="none" stroke="#38104f" stroke-width="1.55"/>
<circle cx="250.40" cy="912.00" r="2.8" fill="none" stroke="#38104f" stroke-width="1.55"/>
<circle cx="246.90" cy="915.50" r="2.8" fill="none" stroke="#38104f" stroke-width="1.55"/>
<circle cx="246.90" cy="928.20" r="2.8" fill="none" stroke="#38104f" stroke-width="1.55"/>
<text x="301.42" y="795.40" font-size="22.32" fill="#000" textLength="17.29" lengthAdjust="spacingAndGlyphs"><tspan font-weight="bold" font-style="normal">D</tspan></text>
<defs><clipPath id="pc"><rect x="317.5" y="820.3" width="187.0" height="136.0"/></clipPath>
<filter id="b1" x="-30%" y="-30%" width="160%" height="160%"><feGaussianBlur stdDeviation="1.0"/></filter>
<filter id="b2" x="-40%" y="-40%" width="180%" height="180%"><feGaussianBlur stdDeviation="2.4"/></filter>
<filter id="b6" x="-50%" y="-50%" width="200%" height="200%"><feGaussianBlur stdDeviation="4"/></filter>
</defs>
<g clip-path="url(#pc)">
<rect x="317.5" y="820.3" width="187.0" height="136.0" fill="#dadbcc"/>
<g filter="url(#b6)" fill="#ebd3e2">
<ellipse cx="333" cy="874" rx="20" ry="26"/>
<ellipse cx="372" cy="858" rx="16" ry="20"/>
<ellipse cx="398" cy="845" rx="22" ry="15"/>
<ellipse cx="452" cy="828" rx="30" ry="9"/>
<ellipse cx="415" cy="855" rx="12" ry="8"/>
<ellipse cx="345" cy="905" rx="16" ry="21"/>
<ellipse cx="366" cy="900" rx="18" ry="26"/>
<ellipse cx="497" cy="838" rx="8" ry="20"/>
<ellipse cx="490" cy="940" rx="14" ry="16"/>
<ellipse cx="330" cy="846" rx="14" ry="12"/>
<ellipse cx="395" cy="906" rx="22" ry="12"/>
<ellipse cx="456" cy="856" rx="16" ry="6"/>
<ellipse cx="490" cy="862" rx="8" ry="10"/>
</g>
<g filter="url(#b2)" fill="#dfa9c9">
<ellipse cx="327" cy="872" rx="9" ry="12"/>
<ellipse cx="338" cy="925" rx="5" ry="7"/>
</g>
<g filter="url(#b1)">
<ellipse cx="349" cy="866" rx="16.5" ry="20" fill="#d77aa6" fill-opacity="1"/>
<ellipse cx="345" cy="874" rx="9" ry="9" fill="#de94b6" fill-opacity="1"/>
<ellipse cx="354" cy="856" rx="8" ry="7" fill="#d0709f" fill-opacity="1"/>
<ellipse cx="340" cy="880" rx="8" ry="5" fill="#cc6aa0" fill-opacity="1"/>
<ellipse cx="496" cy="838" rx="8" ry="13" fill="#e0c0d6" fill-opacity="1"/>
<ellipse cx="497" cy="822" rx="10" ry="4" fill="#5a3a8a" fill-opacity="1"/>
<ellipse cx="328.5" cy="847" rx="12.5" ry="11.5" fill="#4a2c84" fill-opacity="1" stroke="#553a92" stroke-width="1.2"/>
<ellipse cx="326" cy="850" rx="6" ry="5" fill="#36206e" fill-opacity="0.8"/>
<ellipse cx="370" cy="845.5" rx="8" ry="10" fill="#5a429a" fill-opacity="1"/>
<ellipse cx="368" cy="843" rx="3" ry="3" fill="#3e2a7c" fill-opacity="1"/>
<ellipse cx="372" cy="849" rx="2.5" ry="2.5" fill="#3e2a7c" fill-opacity="1"/>
<ellipse cx="393.2" cy="849.2" rx="13.1" ry="12.6" fill="#2c1d68" fill-opacity="1" stroke="#553a92" stroke-width="1.2"/>
<ellipse cx="404" cy="821" rx="16.5" ry="12.3" fill="#382676" fill-opacity="1" stroke="#553a92" stroke-width="1.2"/>
<ellipse cx="434.3" cy="836.5" rx="19" ry="16.8" fill="#382676" fill-opacity="1" stroke="#553a92" stroke-width="1.2"/>
<ellipse cx="474" cy="842.5" rx="18.8" ry="18.5" fill="#382676" fill-opacity="1" stroke="#553a92" stroke-width="1.2"/>
<ellipse cx="493.5" cy="875.7" rx="14.5" ry="15.7" fill="#382676" fill-opacity="1" stroke="#553a92" stroke-width="1.2"/>
<ellipse cx="410" cy="884.3" rx="26.5" ry="26" fill="#4a3090" fill-opacity="1" stroke="#3a2680" stroke-width="2"/>
<ellipse cx="410" cy="872" rx="20" ry="10" fill="#3f2882" fill-opacity="0.8"/>
</g>
<g filter="url(#b2)">
<ellipse cx="403.5" cy="889.5" rx="11.5" ry="11" fill="#b977b6" fill-opacity="1"/>
<ellipse cx="404.5" cy="890" rx="4.5" ry="4.5" fill="#dba8d2" fill-opacity="1"/>
</g>
<g filter="url(#b1)">
<ellipse cx="424" cy="889" rx="6" ry="11.5" fill="#2f2070" fill-opacity="1" transform="rotate(-10 424 889)"/>
<ellipse cx="437" cy="901" rx="4.5" ry="4.5" fill="#b48ac2" fill-opacity="1"/>
<ellipse cx="368.5" cy="883" rx="12" ry="13.5" fill="#382676" fill-opacity="1" stroke="#553a92" stroke-width="1.2"/>
<ellipse cx="378.8" cy="913.5" rx="19" ry="20.5" fill="#382676" fill-opacity="1" stroke="#553a92" stroke-width="1.2"/>
<ellipse cx="341" cy="892" rx="10" ry="10.5" fill="#382676" fill-opacity="1" stroke="#553a92" stroke-width="1.2"/>
<ellipse cx="344" cy="905" rx="7.5" ry="8" fill="#382676" fill-opacity="1"/>
<ellipse cx="346" cy="913" rx="7" ry="7.5" fill="#382676" fill-opacity="1" stroke="#553a92" stroke-width="1.2"/>
<ellipse cx="354.5" cy="921.5" rx="5.5" ry="5" fill="#382676" fill-opacity="1"/>
<ellipse cx="318" cy="890" rx="8.5" ry="19" fill="#382676" fill-opacity="1"/>
<ellipse cx="341.5" cy="929.1" rx="3.2" ry="4.2" fill="#cc7fb0" fill-opacity="1"/>
<ellipse cx="492" cy="942" rx="10" ry="13" fill="#dec6d8" fill-opacity="1"/>
<ellipse cx="500" cy="924" rx="3" ry="3.5" fill="#d69ac2" fill-opacity="1"/>
<ellipse cx="483" cy="943.6" rx="3.4" ry="3.6" fill="#5e3390" fill-opacity="1"/>
<ellipse cx="502" cy="954" rx="4" ry="4" fill="#6a3a98" fill-opacity="1"/>
</g>
<g stroke="#cfb4c8" stroke-width="1" fill="none" opacity="0.6">
<path d="M 424 943 Q 432 940 440 930"/>
<path d="M 450 945 Q 455 950 462 951"/>
</g>
<circle cx="354.6" cy="830.5" r="1.3" fill="#8a6a70" opacity="0.7"/>
<circle cx="348.3" cy="838.2" r="1.3" fill="#8a6a70" opacity="0.7"/>
<polygon points="421,920.2 431.8,932.4 425.2,929.6 419.1,935.8" fill="#111"/>
</g>
<path d="M0,0 H520 V983 H0 Z M2.1,2.1 V980.6 H517.5 V2.1 Z" fill="#000" fill-rule="evenodd"/>
</svg>
</body></html>
